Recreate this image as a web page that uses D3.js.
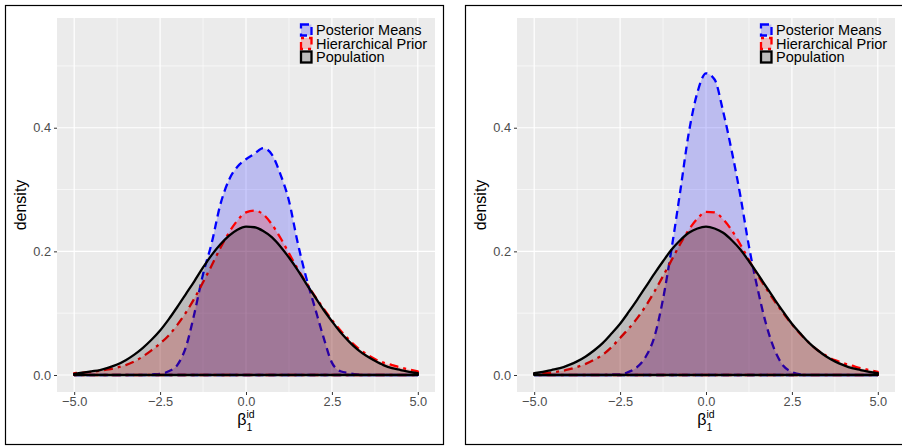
<!DOCTYPE html>
<html>
<head>
<meta charset="utf-8">
<script src="https://cdn.jsdelivr.net/npm/d3@7"></script>
<style>
body { margin: 0; background: #fff; }
svg { display: block; }
text { font-family: "Liberation Sans", Arial, sans-serif; }
</style>
</head>
<body>
<div id="chart"></div>
<script>
const xGrid = [-5, -4.75, -4.5, -4.25, -4, -3.75, -3.5, -3.25, -3, -2.75, -2.5, -2.25, -2, -1.75, -1.5, -1.25, -1, -0.75, -0.5, -0.25,
	0, 0.25, 0.5, 0.75, 1, 1.25, 1.5, 1.75, 2, 2.25, 2.5, 2.75, 3, 3.25, 3.5, 3.75, 4, 4.25, 4.5, 4.75, 5];

// left plot
const leftPosterior = [0, 0, 0, 0, 0, 0, 0, 0, 0, 0.001, 0.002, 0.006, 0.016, 0.045, 0.100, 0.163, 0.213, 0.275, 0.315, 0.337,
	0.349, 0.358, 0.367, 0.357, 0.325, 0.282, 0.215, 0.158, 0.110, 0.062, 0.020, 0.006, 0.003, 0.001, 0, 0, 0, 0, 0, 0, 0];
const leftPrior = [0.003, 0.004, 0.005, 0.007, 0.009, 0.012, 0.016, 0.022, 0.030, 0.040, 0.051, 0.064, 0.081, 0.101, 0.124, 0.150, 0.177, 0.205, 0.230, 0.250,
	0.263, 0.266, 0.260, 0.244, 0.222, 0.197, 0.172, 0.150, 0.128, 0.108, 0.089, 0.072, 0.057, 0.044, 0.034, 0.026, 0.020, 0.016, 0.012, 0.009, 0.006];
const leftPopulation = [0.002, 0.004, 0.006, 0.008, 0.012, 0.017, 0.024, 0.033, 0.044, 0.057, 0.072, 0.090, 0.110, 0.131, 0.152, 0.174, 0.194, 0.211, 0.225, 0.235,
	0.240, 0.239, 0.233, 0.223, 0.208, 0.190, 0.170, 0.148, 0.127, 0.106, 0.087, 0.069, 0.054, 0.041, 0.031, 0.023, 0.016, 0.011, 0.008, 0.005, 0.003];

// right plot
const rightPosterior = [0, 0, 0, 0, 0, 0, 0, 0, 0, 0.001, 0.001, 0.005, 0.013, 0.030, 0.062, 0.123, 0.205, 0.297, 0.392, 0.457,
	0.488, 0.478, 0.426, 0.362, 0.290, 0.208, 0.140, 0.082, 0.040, 0.015, 0.005, 0.001, 0, 0, 0, 0, 0, 0, 0, 0, 0];
const rightPrior = [0.002, 0.003, 0.004, 0.006, 0.009, 0.013, 0.018, 0.025, 0.033, 0.045, 0.060, 0.075, 0.092, 0.112, 0.135, 0.160, 0.186, 0.212, 0.235, 0.253,
	0.264, 0.263, 0.252, 0.234, 0.211, 0.186, 0.162, 0.140, 0.119, 0.100, 0.082, 0.066, 0.052, 0.040, 0.031, 0.024, 0.019, 0.015, 0.011, 0.008, 0.005];
const rightPopulation = [0.003, 0.005, 0.008, 0.011, 0.016, 0.022, 0.030, 0.040, 0.052, 0.067, 0.083, 0.102, 0.122, 0.143, 0.164, 0.184, 0.203, 0.218, 0.230, 0.237,
	0.240, 0.237, 0.230, 0.218, 0.203, 0.184, 0.164, 0.143, 0.122, 0.102, 0.083, 0.067, 0.052, 0.040, 0.030, 0.022, 0.016, 0.011, 0.008, 0.005, 0.003];

const seriesNames = ["Posterior Means", "Hierarchical Prior", "Population"];
const xTicks = [-5, -2.5, 0, 2.5, 5];
const xTickLabels = ["\u22125.0", "\u22122.5", "0.0", "2.5", "5.0"];
const xMinor = [-3.75, -1.25, 1.25, 3.75];
const yTicks = [0, 0.2, 0.4];
const yTickLabels = ["0.0", "0.2", "0.4"];
const yMinor = [0.1, 0.3, 0.5];

// ---------------------------------------------------------------

const W = 902, H = 446;
const svg = d3.select("#chart").append("svg")
	.attr("width", W)
	.attr("height", H);
svg.append("rect").attr("width", W).attr("height", H).attr("fill", "#fff");

const styles = [
	{ line: "#0000ff", fill: "rgba(0,0,255,0.2)", dash: "8,5" },
	{ line: "#ff0000", fill: "rgba(255,0,0,0.2)", dash: "3,5,9,5" },
	{ line: "#000000", fill: "rgba(0,0,0,0.2)", dash: null }
];

const panel = { left: 57, right: 435, top: 18, bottom: 392 };

function draw_plot(ox, seriesList) {
	const g = svg.append("g").attr("transform", `translate(${ox},0)`);

	// plot border
	g.append("rect")
		.attr("x", 5.5).attr("y", 5.5)
		.attr("width", 438).attr("height", 439)
		.attr("fill", "none")
		.attr("stroke", "#000")
		.attr("stroke-width", 1.2);

	const x = d3.scaleLinear().domain([-5.5, 5.5]).range([panel.left, panel.right]);
	const y = d3.scaleLinear().domain([-0.0275, 0.5775]).range([panel.bottom, panel.top]);

	g.append("rect")
		.attr("x", panel.left).attr("y", panel.top)
		.attr("width", panel.right - panel.left)
		.attr("height", panel.bottom - panel.top)
		.attr("fill", "#ebebeb");

	// grid
	g.selectAll(".xminor").data(xMinor).enter().append("line")
		.attr("x1", d => x(d)).attr("x2", d => x(d))
		.attr("y1", panel.top).attr("y2", panel.bottom)
		.attr("stroke", "#fff").attr("stroke-width", 0.6);
	g.selectAll(".yminor").data(yMinor).enter().append("line")
		.attr("y1", d => y(d)).attr("y2", d => y(d))
		.attr("x1", panel.left).attr("x2", panel.right)
		.attr("stroke", "#fff").attr("stroke-width", 0.6);
	g.selectAll(".xmajor").data(xTicks).enter().append("line")
		.attr("x1", d => x(d)).attr("x2", d => x(d))
		.attr("y1", panel.top).attr("y2", panel.bottom)
		.attr("stroke", "#fff").attr("stroke-width", 1.2);
	g.selectAll(".ymajor").data(yTicks).enter().append("line")
		.attr("y1", d => y(d)).attr("y2", d => y(d))
		.attr("x1", panel.left).attr("x2", panel.right)
		.attr("stroke", "#fff").attr("stroke-width", 1.2);

	// densities: outline drawn round the whole polygon, like old geom_density
	const area = d3.area()
		.x(d => x(d[0]))
		.y0(y(0))
		.y1(d => y(d[1]))
		.curve(d3.curveMonotoneX);

	seriesList.forEach((vals, i) => {
		const pts = xGrid.map((v, j) => [v, vals[j]]);
		g.append("path")
			.attr("d", area(pts))
			.attr("fill", styles[i].fill)
			.attr("stroke", styles[i].line)
			.attr("stroke-width", 2.3)
			.attr("stroke-dasharray", styles[i].dash)
			.attr("stroke-linejoin", "round");
	});

	// axes
	const xAxis = g.append("g")
		.attr("transform", `translate(0,${panel.bottom})`)
		.call(d3.axisBottom(x).tickValues(xTicks).tickFormat((d, i) => xTickLabels[i]).tickSize(3).tickPadding(2));
	const yAxis = g.append("g")
		.attr("transform", `translate(${panel.left},0)`)
		.call(d3.axisLeft(y).tickValues(yTicks).tickFormat((d, i) => yTickLabels[i]).tickSize(3).tickPadding(3));
	[xAxis, yAxis].forEach(a => {
		a.select(".domain").remove();
		a.selectAll(".tick line").attr("stroke", "#333").attr("stroke-width", 1);
		a.selectAll(".tick text")
			.attr("fill", "#4d4d4d")
			.style("font-size", "12.8px")
			.style("font-family", '"Liberation Sans", Arial, sans-serif');
	});

	// axis titles
	g.append("text")
		.attr("transform", `translate(26,${(panel.top + panel.bottom) / 2}) rotate(-90)`)
		.attr("text-anchor", "middle")
		.style("font-size", "16px")
		.text("density");

	const cx = x(0);
	g.append("text")
		.attr("x", cx + 0.5).attr("y", 425)
		.attr("text-anchor", "end")
		.style("font-size", "16px")
		.text("\u03b2");
	g.append("text")
		.attr("x", cx + 0.5).attr("y", 418)
		.style("font-size", "10.5px")
		.text("id");
	g.append("text")
		.attr("x", cx + 0.5).attr("y", 431)
		.style("font-size", "10.5px")
		.text("1");

	// legend
	seriesNames.forEach((name, i) => {
		const ky = 24.5 + i * 13.5;
		g.append("rect")
			.attr("x", 301).attr("y", ky)
			.attr("width", 10.5).attr("height", 11)
			.attr("fill", styles[i].fill)
			.attr("stroke", styles[i].line)
			.attr("stroke-width", 2.3)
			.attr("stroke-dasharray", styles[i].dash);
		g.append("text")
			.attr("x", 316).attr("y", ky + 10.5)
			.style("font-size", "14.5px")
			.attr("fill", "#000")
			.text(name);
	});
}

draw_plot(0, [leftPosterior, leftPrior, leftPopulation]);
draw_plot(460, [rightPosterior, rightPrior, rightPopulation]);
</script>
</body>
</html>
